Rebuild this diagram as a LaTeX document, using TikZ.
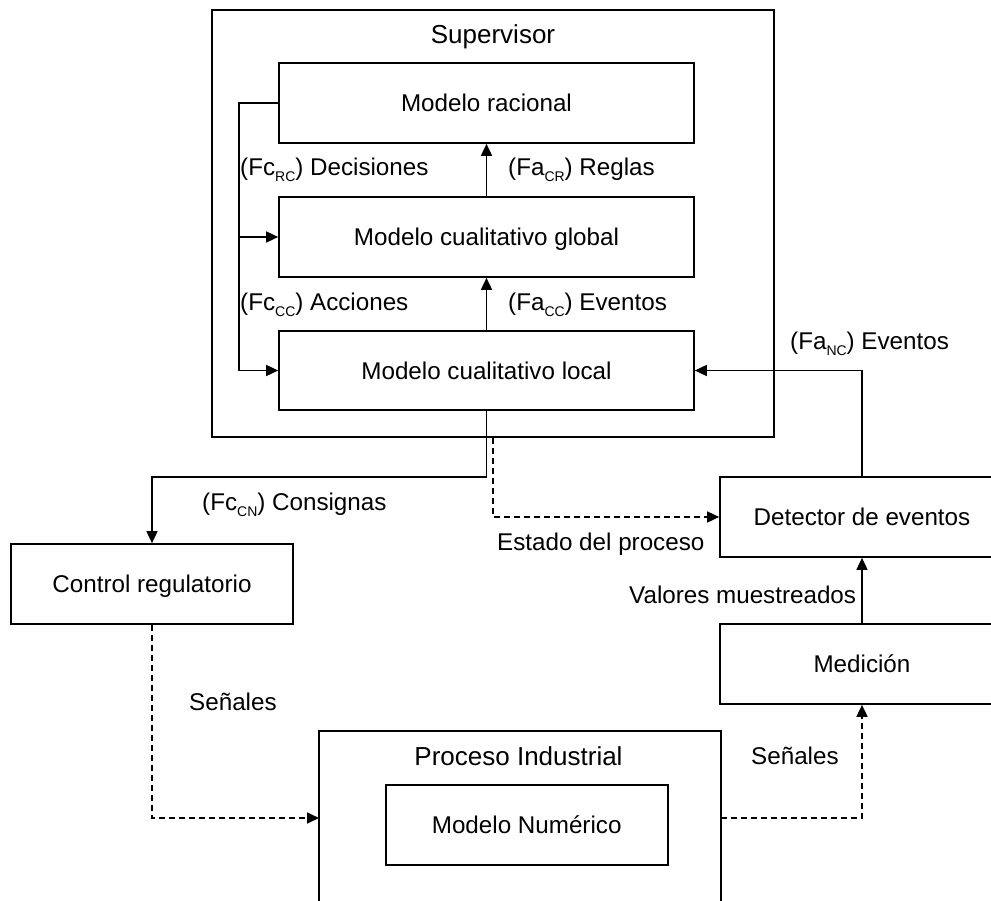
\documentclass[tikz,border=0pt]{standalone}
\usepackage{fontspec}
\setmainfont{Liberation Sans}
\usetikzlibrary{arrows.meta}
% lowered, small subscript tag used in the flow labels
\newcommand\subtag[1]{\raisebox{-6pt}{\fontsize{14}{14}\selectfont #1}}
\begin{document}
\begin{tikzpicture}[x=1pt,y=-1pt,
  txt/.style={font=\fontsize{24.2}{28}\selectfont},
  box/.style={txt, draw, line width=1.7pt, inner sep=0pt,
    text height=17.6pt, text depth=0pt},
  title/.style={inner sep=0pt, font=\fontsize{26}{30}\selectfont},
  lbl/.style={txt, inner sep=0pt, anchor=base west},
  flow/.style={line width=1.7pt, -{Triangle[length=12pt,width=11pt]}},
  sig/.style={flow, dash pattern=on 6pt off 4pt},
]
\clip (0,0) rectangle (991,901);
\fill[white] (0,0) rectangle (991,901);

% supervisor block with its three models
\node[box, minimum width=562pt, minimum height=427pt] (sup) at (493,223.5) {};
\node[title, anchor=base] (suptitle) at (493,43.5) {Supervisor};
\node[box, minimum width=415pt, minimum height=80pt] (rac)  at (486.5,103)   {Modelo racional};
\node[box, minimum width=415pt, minimum height=80pt] (glob) at (486.5,237)   {Modelo cualitativo global};
\node[box, minimum width=415pt, minimum height=79pt] (loc)  at (486.5,370.5) {Modelo cualitativo local};

% lower blocks
\node[box, minimum width=284pt, minimum height=80pt] (det)  at (862,517) {Detector de eventos};
\node[box, minimum width=284pt, minimum height=80pt] (med)  at (862,664) {Medición};
\node[box, minimum width=282pt, minimum height=80pt] (ctrl) at (152,584) {Control regulatorio};
\node[box, minimum width=402pt, minimum height=238pt] (proc) at (520,850) {};
\node[title, anchor=base] (proctitle) at (518.5,765.5) {Proceso Industrial};
\node[box, minimum width=282pt, minimum height=80pt] (num)  at (526.7,825) {Modelo Numérico};

% bend points and free ends
\coordinate (fb) at (239,103);
\coordinate (cnbend) at (486.5,477);
\coordinate (pin) at (319,818);
\coordinate (pout) at (721,818);

% feedback inside the supervisor
\draw[flow] (rac.west) -- (fb) |- (loc.west);
\draw[flow] (fb |- glob.west) -- (glob.west);
\draw[flow] (glob.north) -- (rac.south);
\draw[flow] (loc.north) -- (glob.south);

% links with the process side
\draw[flow] (det.north) |- (loc.east);
\draw[flow] (loc.south) -- (cnbend) -| (ctrl.north);
\draw[sig] (sup.south) |- (det.west);
\draw[sig] (ctrl.south) |- (pin);
\draw[sig] (pout) -| (med.south);
\draw[flow] (med.north) -- (det.south);

% flow labels
\node[lbl] (lrc) at (240,176)   {(Fc\subtag{RC}) Decisiones};
\node[lbl] (lcr) at (508,176)   {(Fa\subtag{CR}) Reglas};
\node[lbl] (lcc) at (240,311)   {(Fc\subtag{CC}) Acciones};
\node[lbl] (lac) at (508,311)   {(Fa\subtag{CC}) Eventos};
\node[lbl] (lnc) at (790,349)   {(Fa\subtag{NC}) Eventos};
\node[lbl] (lcn) at (202,510.5) {(Fc\subtag{CN}) Consignas};
\node[lbl] (lest) at (497,550.5) {Estado del proceso};
\node[lbl] (lval) at (629,603)   {Valores muestreados};
\node[lbl] (ls1) at (189,710.5) {Señales};
\node[lbl] (ls2) at (751,764)   {Señales};
\end{tikzpicture}
\end{document}
